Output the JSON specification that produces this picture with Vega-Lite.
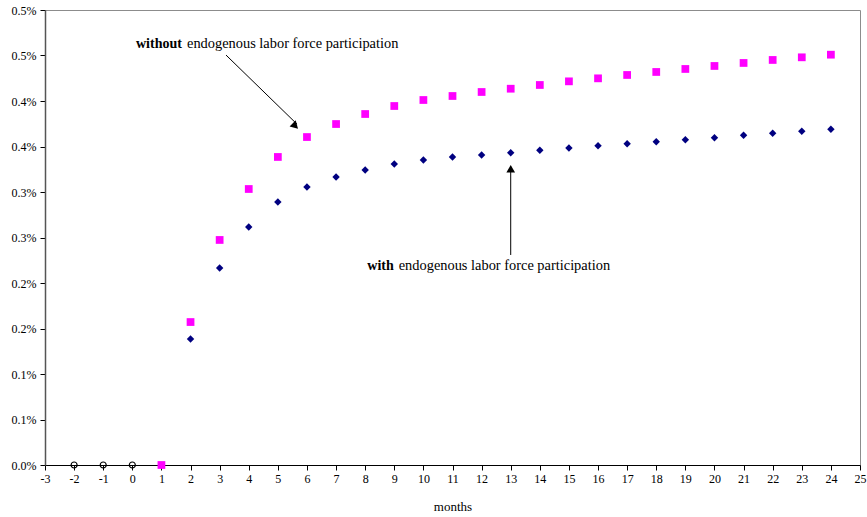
{
  "$schema": "https://vega.github.io/schema/vega-lite/v6.json",
  "width": 815,
  "height": 455,
  "autosize": {"type": "none"},
  "padding": {"left": 45, "top": 10, "right": 7, "bottom": 52},
  "background": "white",
  "config": {
    "view": {"stroke": "#8c8c8c", "strokeWidth": 1},
    "font": "Liberation Serif",
    "axis": {"labelFont": "Liberation Serif", "titleFont": "Liberation Serif", "labelColor": "black", "titleColor": "black", "grid": false, "tickColor": "black"}
  },
  "datasets": {
    "series": [
      {"month": -2, "value": 0, "series": "pre"},
      {"month": -1, "value": 0, "series": "pre"},
      {"month": 0, "value": 0, "series": "pre"},
      {"month": 1, "value": 0, "series": "without"},
      {"month": 2, "value": 0.1571, "series": "without"},
      {"month": 3, "value": 0.2473, "series": "without"},
      {"month": 4, "value": 0.3033, "series": "without"},
      {"month": 5, "value": 0.3385, "series": "without"},
      {"month": 6, "value": 0.3604, "series": "without"},
      {"month": 7, "value": 0.3747, "series": "without"},
      {"month": 8, "value": 0.3857, "series": "without"},
      {"month": 9, "value": 0.3945, "series": "without"},
      {"month": 10, "value": 0.4011, "series": "without"},
      {"month": 11, "value": 0.4055, "series": "without"},
      {"month": 12, "value": 0.4099, "series": "without"},
      {"month": 13, "value": 0.4135, "series": "without"},
      {"month": 14, "value": 0.4176, "series": "without"},
      {"month": 15, "value": 0.4216, "series": "without"},
      {"month": 16, "value": 0.4249, "series": "without"},
      {"month": 17, "value": 0.4286, "series": "without"},
      {"month": 18, "value": 0.4319, "series": "without"},
      {"month": 19, "value": 0.4352, "series": "without"},
      {"month": 20, "value": 0.4385, "series": "without"},
      {"month": 21, "value": 0.4418, "series": "without"},
      {"month": 22, "value": 0.4451, "series": "without"},
      {"month": 23, "value": 0.448, "series": "without"},
      {"month": 24, "value": 0.4509, "series": "without"},
      {"month": 2, "value": 0.1385, "series": "with"},
      {"month": 3, "value": 0.2165, "series": "with"},
      {"month": 4, "value": 0.2615, "series": "with"},
      {"month": 5, "value": 0.289, "series": "with"},
      {"month": 6, "value": 0.3055, "series": "with"},
      {"month": 7, "value": 0.3165, "series": "with"},
      {"month": 8, "value": 0.3242, "series": "with"},
      {"month": 9, "value": 0.3308, "series": "with"},
      {"month": 10, "value": 0.3352, "series": "with"},
      {"month": 11, "value": 0.3385, "series": "with"},
      {"month": 12, "value": 0.3407, "series": "with"},
      {"month": 13, "value": 0.3432, "series": "with"},
      {"month": 14, "value": 0.3458, "series": "with"},
      {"month": 15, "value": 0.3484, "series": "with"},
      {"month": 16, "value": 0.3509, "series": "with"},
      {"month": 17, "value": 0.3531, "series": "with"},
      {"month": 18, "value": 0.3553, "series": "with"},
      {"month": 19, "value": 0.3575, "series": "with"},
      {"month": 20, "value": 0.3597, "series": "with"},
      {"month": 21, "value": 0.3623, "series": "with"},
      {"month": 22, "value": 0.3645, "series": "with"},
      {"month": 23, "value": 0.3667, "series": "with"},
      {"month": 24, "value": 0.3689, "series": "with"}
    ]
  },
  "encoding": {
    "x": {"field": "month", "type": "quantitative", "scale": {"domain": [-3, 25], "nice": false, "zero": false},
      "axis": {"title": "months", "values": [-3,-2,-1,0,1,2,3,4,5,6,7,8,9,10,11,12,13,14,15,16,17,18,19,20,21,22,23,24,25], "labelExpr": "'' + datum.value", "labelFontSize": 12, "titleFontSize": 13, "titleFontWeight": "normal", "tickSize": 5, "labelPadding": 3, "titlePadding": 16, "domainColor": "black", "labelFlush": false, "labelOverlap": false, "labelBound": false}},
    "y": {"field": "value", "type": "quantitative", "scale": {"domain": [0, 0.5], "nice": false},
      "axis": {"title": null, "values": [0,0.05,0.1,0.15,0.2,0.25,0.3,0.35,0.4,0.45,0.5], "labelExpr": "format(round(datum.value*10 + 0.000001)/10, '.1f') + '%'", "labelFontSize": 12, "tickSize": 5, "labelPadding": 4, "domainColor": "#555555", "domainWidth": 1.5, "labelFlush": false, "labelOverlap": false}}
  },
  "layer": [
    {
      "data": {"name": "series"},
      "transform": [{"filter": "datum.series === 'with'"}],
      "mark": {"type": "point", "shape": "diamond", "filled": true, "color": "#000080", "size": 55, "opacity": 1}
    },
    {
      "data": {"name": "series"},
      "transform": [{"filter": "datum.series === 'without'"}],
      "mark": {"type": "point", "shape": "square", "filled": true, "color": "#FF00FF", "size": 60, "opacity": 1}
    },
    {
      "data": {"name": "series"},
      "transform": [{"filter": "datum.series === 'pre'"}],
      "mark": {"type": "point", "shape": "circle", "filled": false, "color": "black", "strokeWidth": 1.2, "size": 36, "opacity": 1}
    },
    {
      "data": {"values": [{"month": 3.218, "value": 0.4505, "month2": 5.66, "value2": 0.3745}]},
      "mark": {"type": "rule", "color": "black", "strokeWidth": 1},
      "encoding": {
        "x2": {"field": "month2"},
        "y2": {"field": "value2"}
      }
    },
    {
      "data": {"values": [{"month": 5.6, "value": 0.3725}]},
      "mark": {"type": "point", "shape": "triangle-up", "filled": true, "color": "black", "size": 75, "angle": 134.6, "opacity": 1}
    },
    {
      "data": {"values": [{"month": 13, "value": 0.2308, "month2": 13, "value2": 0.325}]},
      "mark": {"type": "rule", "color": "black", "strokeWidth": 1},
      "encoding": {
        "x2": {"field": "month2"},
        "y2": {"field": "value2"}
      }
    },
    {
      "data": {"values": [{"month": 13, "value": 0.3255}]},
      "mark": {"type": "point", "shape": "triangle-up", "filled": true, "color": "black", "size": 75, "opacity": 1}
    },
    {
      "data": {"values": [{"month": 0.126, "value": 0.4626, "text": "without"}, {"month": 8.073, "value": 0.2187, "text": "with"}]},
      "mark": {"type": "text", "align": "left", "baseline": "middle", "font": "Liberation Serif", "fontSize": 14, "fontWeight": "bold", "color": "black"},
      "encoding": {
        "text": {"field": "text"}
      }
    },
    {
      "data": {"values": [{"month": 1.879, "value": 0.4626, "text": "endogenous labor force participation"}, {"month": 9.152, "value": 0.2187, "text": "endogenous labor force participation"}]},
      "mark": {"type": "text", "align": "left", "baseline": "middle", "font": "Liberation Serif", "fontSize": 14.4, "color": "black"},
      "encoding": {
        "text": {"field": "text"}
      }
    }
  ]
}
